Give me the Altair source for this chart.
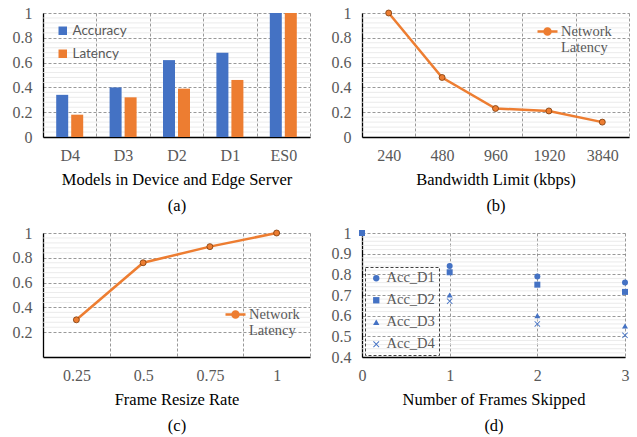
import altair as alt
import pandas as pd

# ---------------- data ----------------
models = ["D4", "D3", "D2", "D1", "ES0"]
accuracy = [0.34, 0.40, 0.62, 0.68, 1.0]
latency = [0.18, 0.32, 0.39, 0.46, 1.0]

bandwidth = ["240", "480", "960", "1920", "3840"]
bw_latency = [1.0, 0.48, 0.23, 0.21, 0.12]

resize = ["0.25", "0.5", "0.75", "1"]
resize_latency = [0.30, 0.76, 0.89, 1.0]

frames = [0, 1, 2, 3]
acc_d1 = [1.0, 0.84, 0.79, 0.76]
acc_d2 = [1.0, 0.81, 0.75, 0.715]
acc_d3 = [1.0, 0.70, 0.60, 0.55]
acc_d4 = [1.0, 0.67, 0.56, 0.505]
acc_names = ["Acc_D1", "Acc_D2", "Acc_D3", "Acc_D4"]

ticks_01 = [0, 0.2, 0.4, 0.6, 0.8, 1.0]
ticks_c = [0.2, 0.4, 0.6, 0.8, 1.0]
ticks_d = [0.4, 0.5, 0.6, 0.7, 0.8, 0.9, 1.0]

# ---------------- style ----------------
BLUE = "#4472C4"
ORANGE = "#ED7D31"
DARK = "#7a3a0a"
SERIF = "Liberation Serif"
SANS = "Lato"
LABEL = "#595959"
GRID = "#7f7f7f"
MINOR = "#e6e6e6"
W, H = 267, 124

def minor_vals(lo, hi, step, major_every):
    n = int(round((hi - lo) / step))
    return [round(lo + i * step, 4) for i in range(n + 1) if i % major_every]

def yaxis(vals):
    return alt.Axis(values=vals, format="~g", title=None, grid=True, gridColor=GRID,
                    gridDash=[3, 2], gridWidth=0.8, domain=True, domainColor="black",
                    domainWidth=1.3, ticks=False, labelFont=SERIF, labelFontSize=16,
                    labelColor=LABEL, labelPadding=11)

def xaxis(title, cap, band=True, vals=None):
    kw = dict(title=[title, cap], titleFont=SERIF, titleFontSize=16.5, titleFontWeight="normal",
              titleColor="black", titlePadding=8, titleLineHeight=26, grid=True, gridColor=GRID,
              gridDash=[3, 2], gridWidth=0.8, domain=True, domainColor="black", domainWidth=1.3,
              ticks=False, labelFont=SERIF, labelFontSize=16, labelColor=LABEL, labelPadding=10,
              labelAngle=0, labelFlush=False)
    if band:
        kw["tickBand"] = "extent"
    if vals is not None:
        kw["values"] = vals
    return alt.Axis(**kw)

def minor_layer(vals, yticks):
    return alt.Chart(pd.DataFrame({"m": vals})).mark_rule(color=MINOR, strokeWidth=0.8).encode(
        y=alt.Y("m:Q", axis=yaxis(yticks)))

XPATH = ("M-1,-0.8L-0.8,-1L0,-0.2L0.8,-1L1,-0.8L0.2,0L1,0.8L0.8,1L0,0.2L-0.8,1L-1,0.8L-0.2,0Z")
LINESYM = "M-1,0L1,0M0.3,0A0.3,0.3,0,1,1,-0.3,0A0.3,0.3,0,1,1,0.3,0Z"

# ---------------- (a) ----------------
df_a = pd.DataFrame({"model": models * 2,
                     "metric": ["Accuracy"] * len(models) + ["Latency"] * len(models),
                     "value": accuracy + latency})
bars = alt.Chart(df_a).mark_bar().encode(
    x=alt.X("model:N", sort=models, scale=alt.Scale(paddingInner=0, paddingOuter=0),
            axis=xaxis("Models in Device and Edge Server", "(a)")),
    xOffset=alt.XOffset("metric:N", scale=alt.Scale(paddingInner=0.2, paddingOuter=0.88)),
    y=alt.Y("value:Q", scale=alt.Scale(domain=[0, 1]), axis=yaxis(ticks_01)),
    color=alt.Color("metric:N", scale=alt.Scale(domain=["Accuracy", "Latency"], range=[BLUE, ORANGE]),
                    legend=alt.Legend(orient="none", legendX=13, legendY=11, title=None,
                                      labelFont=SANS, labelFontSize=13.5, labelColor=LABEL,
                                      symbolType="square", symbolSize=72, rowPadding=8,
                                      labelOffset=3, symbolStrokeWidth=0)),
)
chart_a = alt.layer(minor_layer(minor_vals(0, 1, 0.04, 5), ticks_01), bars).properties(width=W, height=H)

# ---------------- line panels ----------------
def line_panel(cats, vals, xtitle, cap, ydom, yticks, minors, lx, ly):
    df = pd.DataFrame({"x": cats, "v": vals, "s": "Network Latency"})
    line = alt.Chart(df).mark_line(
        strokeWidth=2.5,
        point=alt.OverlayMarkDef(filled=True, fill=ORANGE, stroke=DARK, strokeWidth=0.8, size=36),
    ).encode(
        x=alt.X("x:N", sort=cats, scale=alt.Scale(paddingInner=0, paddingOuter=0),
                axis=xaxis(xtitle, cap)),
        y=alt.Y("v:Q", scale=alt.Scale(domain=ydom), axis=yaxis(yticks)),
        color=alt.Color("s:N", scale=alt.Scale(range=[ORANGE]),
                        legend=alt.Legend(orient="none", legendX=lx, legendY=ly, title=None,
                                          labelExpr="['Network', 'Latency']",
                                          labelFont=SERIF, labelFontSize=14.5, labelColor=LABEL,
                                          symbolType=LINESYM, symbolSize=400, symbolStrokeWidth=2.5,
                                          symbolFillColor=ORANGE, labelOffset=2)),
    )
    return alt.layer(minor_layer(minors, yticks), line).properties(width=W, height=H)

chart_b = line_panel(bandwidth, bw_latency, "Bandwidth Limit (kbps)", "(b)", [0, 1], ticks_01,
                     minor_vals(0, 1, 0.04, 5), 174, 7)
chart_c = line_panel(resize, resize_latency, "Frame Resize Rate", "(c)", [0.2, 1], ticks_c,
                     minor_vals(0.2, 1, 0.04, 5), 181, 70)

# ---------------- (d) ----------------
df_d = pd.DataFrame({"f": frames * 4,
                     "series": sum([[n] * len(frames) for n in acc_names], []),
                     "v": acc_d1 + acc_d2 + acc_d3 + acc_d4})
pts = alt.Chart(df_d).mark_point(filled=True, size=36, opacity=1, color=BLUE).encode(
    x=alt.X("f:Q", scale=alt.Scale(domain=[0, 3], nice=False, zero=False),
            axis=xaxis("Number of Frames Skipped", "(d)", band=False, vals=frames)),
    y=alt.Y("v:Q", scale=alt.Scale(domain=[0.4, 1], zero=False), axis=yaxis(ticks_d)),
    shape=alt.Shape("series:N", scale=alt.Scale(domain=acc_names,
                                                range=["circle", "square", "triangle-up", XPATH]),
                    legend=alt.Legend(orient="none", legendX=3, legendY=34, title=None,
                                      labelFont=SERIF, labelFontSize=14.5, labelColor=LABEL,
                                      symbolSize=40, symbolFillColor=BLUE, symbolStrokeWidth=0,
                                      rowPadding=7, padding=4, labelOffset=3,
                                      strokeColor="#404040")),
)
chart_d = alt.layer(minor_layer(minor_vals(0.4, 1, 0.02, 5), ticks_d), pts).properties(width=263, height=H)

row1 = alt.hconcat(chart_a, chart_b, spacing=20).resolve_scale(color="independent", shape="independent")
row2 = alt.hconcat(chart_c, chart_d, spacing=20).resolve_scale(color="independent", shape="independent")
chart = alt.vconcat(row1, row2, spacing=11).resolve_scale(
    color="independent", shape="independent"
).properties(
    padding={"left": 12, "top": 5, "right": 2, "bottom": 2}
).configure_view(stroke=None).configure_legend(strokeDash=[3, 2])

chart.save("out.html", embed_options={"renderer": "svg", "actions": False})
